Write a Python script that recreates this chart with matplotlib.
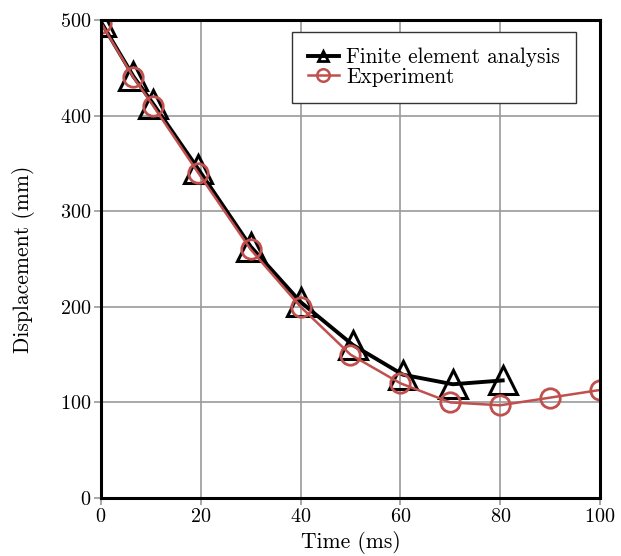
import matplotlib.pyplot as plt
from matplotlib.lines import Line2D

plt.rcParams['font.family'] = 'cmr10'
plt.rcParams['mathtext.fontset'] = 'cm'
plt.rcParams['axes.formatter.use_mathtext'] = True

# Data
fea_time = [0, 6.5, 10.5, 19.5, 30, 40, 50.5, 60.5, 70.5, 80.5]
fea_disp = [498, 441, 412, 344, 263, 205, 160, 129, 119, 123]
exp_time = [0, 6.5, 10.5, 19.5, 30, 40, 50, 60, 70, 80, 90, 100]
exp_disp = [497, 440, 410, 340, 260, 200, 150, 120, 100, 97, 105, 113]

red = '#c0504d'

fig = plt.figure(figsize=(6.21, 5.56), dpi=100)
ax = fig.add_axes([0.1626, 0.1043, 0.8036, 0.8597])

ax.plot(fea_time, fea_disp, color='black', lw=2.8, marker='^', ms=19.5,
        mfc='none', mec='black', mew=2.2, zorder=3)
ax.plot(exp_time, exp_disp, color=red, lw=1.8, marker='o', ms=14,
        mfc='none', mec=red, mew=2.0, zorder=4)

ax.set_xlim(0, 100)
ax.set_ylim(0, 500)
ax.set_xticks([0, 20, 40, 60, 80, 100])
ax.set_yticks([0, 100, 200, 300, 400, 500])
ax.grid(True, color='#9a9a9a', lw=1.2)
ax.set_axisbelow(True)
ax.tick_params(direction='out', length=5, width=1.2, color='#9a9a9a',
               labelsize=14.5, pad=2)
for s in ax.spines.values():
    s.set_linewidth(2.2)
    s.set_color('black')
    s.set_zorder(5)

ax.set_xlabel('Time (ms)', fontsize=15.5, labelpad=4)
ax.set_ylabel('Displacement (mm)', fontsize=15.5, labelpad=18)

handles = [
    Line2D([], [], color='black', lw=2.8, marker='^', ms=7, mfc='none', mew=2),
    Line2D([], [], color=red, lw=1.8, marker='o', ms=9, mfc='none', mew=1.8),
]
leg = ax.legend(handles, ['Finite element analysis', 'Experiment'],
                loc='upper right', bbox_to_anchor=(0.952, 0.975),
                fontsize=15.3, frameon=True, fancybox=False, framealpha=1,
                edgecolor='#333333', handlelength=1.45, handletextpad=0.35,
                borderpad=0.75, labelspacing=0.0, borderaxespad=0)
leg.get_frame().set_linewidth(1.0)

plt.savefig('out.png', dpi=100)
